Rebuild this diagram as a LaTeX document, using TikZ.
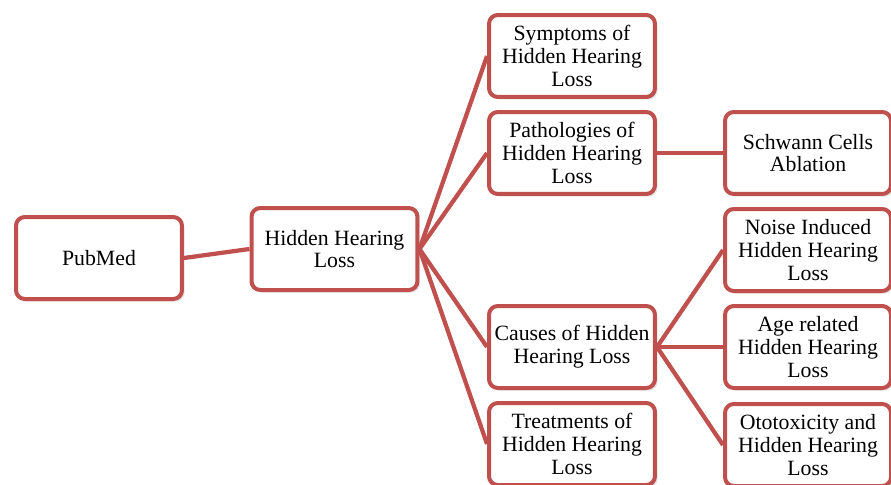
\documentclass[tikz,border=0pt]{standalone}
\usepackage{fontspec}
\setmainfont{Liberation Serif}
\usepackage{xcolor}
\usepackage{tikz}
\usetikzlibrary{positioning}
\usetikzlibrary{shadows}

\definecolor{boxred}{HTML}{C0504D}

\begin{document}
\begin{tikzpicture}[
  x=0.02cm, y=-0.02cm,
  topic/.style={
    rectangle,
    rounded corners=5pt,
    draw=boxred,
    line width=0.08cm,
    fill=white,
    drop shadow={opacity=0.2, shadow xshift=1.5pt, shadow yshift=-1.5pt},
    minimum width=3.32cm,
    minimum height=1.64cm,
    align=center,
    inner sep=2pt,
    font=\fontsize{12.4}{13}\selectfont
  },
  link/.style={line width=0.085cm, boxred}
]
\clip (0,0) rectangle (891,484);
\fill[white] (0,0) rectangle (891,484);

% ===================== root =====================
\node[topic] (pubmed)  at (99,258)  {PubMed};
\node[topic] (hhl)     at (334.5,249) {Hidden Hearing\\Loss};

% ===================== topics =====================
\node[topic] (symp)    at (572,56)  {Symptoms of\\Hidden Hearing\\Loss};
\node[topic] (patho)   at (572,153) {Pathologies of\\Hidden Hearing\\Loss};
\node[topic] (causes)  at (572,347) {Causes of Hidden\\Hearing Loss};
\node[topic] (treat)   at (572,444) {Treatments of\\Hidden Hearing\\Loss};

% ===================== subtopics =====================
\node[topic] (schwann) at (808,153) {Schwann Cells\\Ablation};
\node[topic] (noise)   at (808,250) {Noise Induced\\Hidden Hearing\\Loss};
\node[topic] (age)     at (808,347) {Age related\\Hidden Hearing\\Loss};
\node[topic] (oto)     at (808,445) {Ototoxicity and\\Hidden Hearing\\Loss};

\draw[link] (pubmed.east) -- (hhl.west);
\draw[link] (hhl.east) -- (symp.west);
\draw[link] (hhl.east) -- (patho.west);
\draw[link] (hhl.east) -- (causes.west);
\draw[link] (hhl.east) -- (treat.west);
\draw[link] (patho.east) -- (schwann.west);
\draw[link] (causes.east) -- (noise.west);
\draw[link] (causes.east) -- (age.west);
\draw[link] (causes.east) -- (oto.west);

\end{tikzpicture}
\end{document}
